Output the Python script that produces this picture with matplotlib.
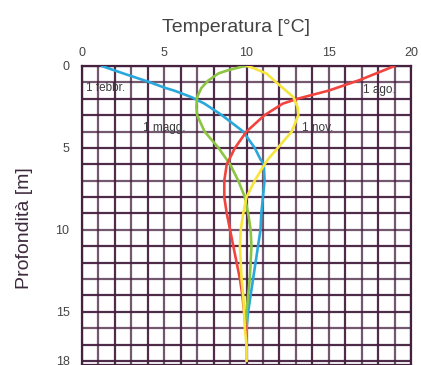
import matplotlib.pyplot as plt

# profili di temperatura (temperatura °C, profondità m)
depth_feb = [0, 0.45, 0.95, 1.35, 1.5, 1.9, 2.3, 3, 4, 5, 5.7, 6, 7, 8, 9, 10, 11, 12, 13, 14, 15, 16, 16.5, 18]
temp_feb = [1.2, 2.5, 4.0, 5.1, 5.6, 6.65, 7.45, 8.5, 9.8, 10.5, 10.85, 11.05, 11.1, 11.0, 10.9, 10.85,
            10.7, 10.55, 10.4, 10.25, 10.1, 10.0, 10.0, 10.0]

depth_mag = [0, 0.1, 0.25, 0.45, 0.9, 1.35, 1.9, 2.5, 3, 4, 5, 6, 7, 8, 9, 10, 11, 12, 13, 14, 15, 16, 16.5, 18]
temp_mag = [9.9, 9.5, 8.9, 8.3, 7.66, 7.25, 7.0, 6.95, 7.0, 7.45, 8.3, 9.0, 9.5, 9.9, 10.1, 10.25,
            10.3, 10.25, 10.2, 10.1, 10.0, 9.98, 10.0, 10.0]

depth_nov = [0, 0.1, 0.25, 0.45, 0.9, 1.9, 2.5, 3, 4, 5, 5.7, 6, 7, 8, 9, 10, 11, 12, 13, 14, 15, 16, 17, 18]
temp_nov = [10.0, 10.35, 10.7, 11.2, 11.7, 12.85, 13.1, 13.15, 12.75, 11.9, 11.3, 11.1, 10.5, 10.0,
            9.8, 9.65, 9.6, 9.65, 9.7, 9.8, 9.85, 9.9, 10.0, 10.0]

depth_ago = [0, 0.85, 1.5, 2, 2.3, 3, 4, 5, 6, 7, 8, 9, 10, 11, 12, 13, 14, 15, 16, 16.5, 18]
temp_ago = [19.0, 16.9, 15.0, 13.1, 12.2, 11.1, 10.0, 9.3, 8.8, 8.65, 8.65, 8.8, 9.0, 9.2, 9.4, 9.6,
            9.75, 9.85, 9.95, 10.0, 10.0]

labels = ['1 febbr.', '1 magg.', '1 nov.', '1 ago.']
label_pos = [(0.25, 1.37), (3.7, 3.8), (13.4, 3.8), (17.1, 1.45)]

fig = plt.figure(figsize=(4.21, 3.65), dpi=100)
ax = fig.add_axes([82 / 421, 0.0, 329 / 421, 299 / 365])

grid_col = '#45203f'
for x in range(0, 21):
    ax.axvline(x, color=grid_col, lw=1.6, alpha=0.95 if x % 2 == 0 else 0.75, zorder=1)
for y in range(0, 19):
    ax.axhline(y, color=grid_col, lw=1.6, alpha=0.95 if y % 3 != 1 else 0.75, zorder=1)

ax.plot(temp_feb, depth_feb, color='#2aa8dc', lw=1.9, zorder=3, solid_capstyle='round')
ax.plot(temp_mag, depth_mag, color='#8cc540', lw=1.9, zorder=3, solid_capstyle='round')
ax.plot(temp_ago, depth_ago, color='#f2443f', lw=1.9, zorder=4, solid_capstyle='round')
ax.plot(temp_nov, depth_nov, color='#f6e53c', lw=1.9, zorder=4, solid_capstyle='round')

for lab, (x, y) in zip(labels, label_pos):
    ax.text(x, y, lab, fontsize=8.5, color='#3a3a3a', va='center', ha='left',
            family='Liberation Sans', zorder=5)

ax.set_xlim(0, 20)
ax.set_ylim(18.25, 0)
ax.xaxis.tick_top()
ax.xaxis.set_label_position('top')
ax.set_xticks([0, 5, 10, 15, 20])
ax.set_yticks([0, 5, 10, 15, 18])
ax.tick_params(length=0, labelsize=9, labelcolor='#444444')
ax.tick_params(axis='x', pad=5)
ax.tick_params(axis='y', pad=9)
for t in ax.get_xticklabels() + ax.get_yticklabels():
    t.set_family('Liberation Sans')
for s in ax.spines.values():
    s.set_color(grid_col)
    s.set_linewidth(1.6)

ax.set_xlabel('Temperatura [°C]', fontsize=14, color='#444444',
              family='Liberation Sans')
ax.xaxis.set_label_coords(0.468, 1.114)
ax.set_ylabel('Profondità [m]', fontsize=14, color='#3d2a3d',
              family='Liberation Sans')
ax.yaxis.set_label_coords(-0.149, 0.458)

fig.savefig('out.png', dpi=100)
